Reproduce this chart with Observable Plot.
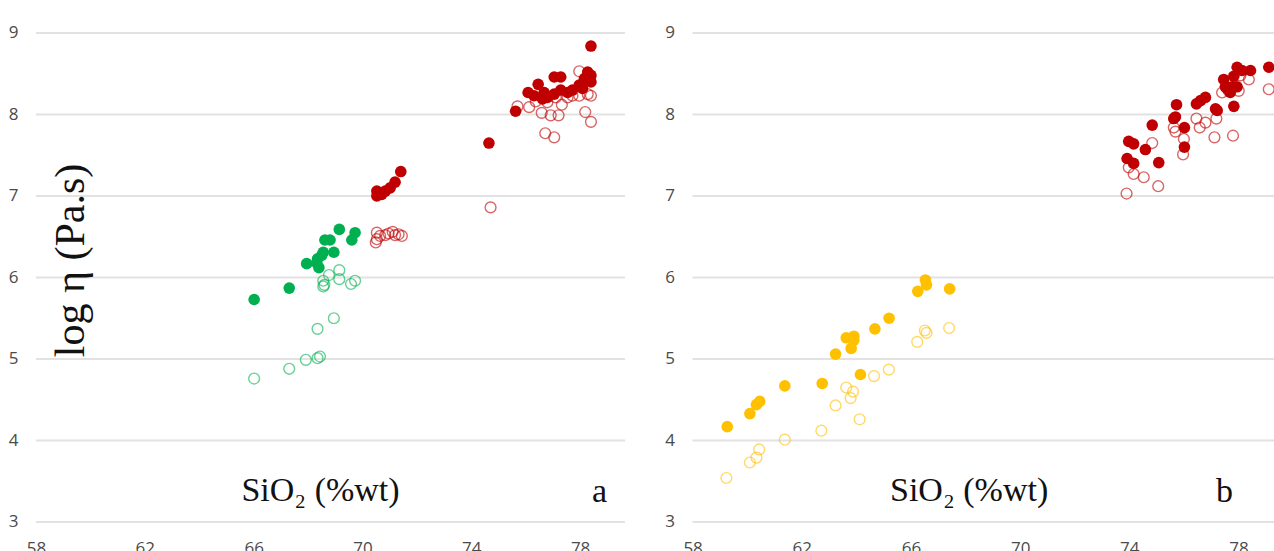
<!DOCTYPE html>
<html>
<head>
<meta charset="utf-8">
<script src="https://cdn.jsdelivr.net/npm/d3@7"></script>
<script src="https://cdn.jsdelivr.net/npm/@observablehq/plot@0.6"></script>
<style>
  html, body { margin: 0; padding: 0; background: #fff; overflow: hidden; }
  #wrap { display: flex; flex-direction: row; width: 1274px; height: 551px; }
</style>
</head>
<body>
<div id="wrap"></div>
<script>
// ---- tick labels ----
const xTicks = [58, 62, 66, 70, 74, 78];
const yTicks = [3, 4, 5, 6, 7, 8, 9];

// ---- labels ----
const xTitle = "SiO₂ (%wt)";
const yTitle = "log η (Pa.s)";
const panelLetters = ["a", "b"];

// ---- panel a: [SiO2, log viscosity] ----
const aGreenFilled = [[66.0,5.73],[67.29,5.87],[67.93,6.17],[68.3,6.18],[68.33,6.23],[68.38,6.12],[68.48,6.27],[68.54,6.31],[68.93,6.31],[68.6,6.46],[68.79,6.46],[69.13,6.59],[69.71,6.55],[69.59,6.46]];
const aGreenOpen = [[66.0,4.76],[67.29,4.88],[67.9,4.99],[68.33,5.01],[68.42,5.03],[68.33,5.37],[68.93,5.5],[68.54,5.96],[68.58,5.91],[68.54,5.89],[68.75,6.03],[69.13,6.09],[69.13,5.98],[69.56,5.92],[69.71,5.96]];
const aRedFilled = [[71.39,7.30],[71.18,7.17],[71.0,7.10],[70.82,7.06],[70.63,7.04],[70.51,7.0],[70.51,7.06],[70.69,7.02],
  [78.38,8.84],[74.63,7.65],[75.61,8.04],[76.07,8.27],[76.44,8.37],[76.29,8.23],[76.6,8.19],[76.78,8.21],[77.03,8.46],[77.27,8.46],[77.03,8.25],[77.27,8.30],[77.7,8.30],[77.95,8.36],[78.14,8.44],[78.26,8.52],[78.38,8.48],[78.07,8.32],[78.38,8.40],[77.52,8.27],[76.66,8.27]];
const aRedOpen = [[70.51,6.55],[70.51,6.47],[70.63,6.51],[70.82,6.52],[70.94,6.54],[71.09,6.56],[71.18,6.52],[71.31,6.53],[71.43,6.51],[70.47,6.43],
  [74.69,6.86],[76.7,7.77],[77.03,7.72],[75.68,8.10],[76.11,8.09],[76.57,8.02],[76.9,7.99],[77.19,7.99],[77.31,8.12],[78.17,8.03],[78.38,7.91],[77.95,8.53],[78.38,8.23],[76.35,8.16],[76.78,8.15],[77.7,8.23],[77.95,8.23],[78.26,8.25],[77.09,8.21],[77.52,8.21]];

// ---- panel b ----
const bYellowFilled = [[59.25,4.17],[60.08,4.33],[60.32,4.44],[60.44,4.48],[61.36,4.67],[62.73,4.70],[63.22,5.06],[63.61,5.26],[63.89,5.28],[63.89,5.23],[63.79,5.13],[64.13,4.81],[64.66,5.37],[65.18,5.50],[66.23,5.83],[66.51,5.97],[66.55,5.91],[67.40,5.86]];
const bYellowOpen = [[59.22,3.54],[60.08,3.73],[60.32,3.79],[60.42,3.89],[61.36,4.01],[62.70,4.12],[63.22,4.43],[63.61,4.65],[63.77,4.52],[63.86,4.60],[64.10,4.26],[64.63,4.79],[65.17,4.87],[66.21,5.21],[66.49,5.35],[66.55,5.32],[67.38,5.38]];
const bRedFilled = [[73.96,7.67],[74.14,7.64],[73.9,7.46],[74.14,7.40],[74.57,7.57],[74.82,7.87],[75.06,7.41],[75.71,8.12],[75.67,7.97],[75.61,7.95],[76.0,7.84],[76.0,7.60],[76.44,8.13],[76.59,8.17],[76.77,8.21],[77.14,8.07],[77.2,8.05],[77.81,8.10],[77.44,8.43],[77.56,8.32],[77.81,8.47],[77.93,8.58],[78.11,8.54],[78.42,8.54],[79.09,8.58],[77.5,8.34],[77.75,8.34],[77.93,8.34],[77.68,8.27]];
const bRedOpen = [[73.88,7.03],[73.96,7.35],[74.14,7.27],[74.51,7.23],[74.82,7.65],[75.04,7.12],[75.61,7.84],[75.67,7.79],[75.98,7.70],[75.95,7.51],[76.44,7.95],[76.56,7.84],[76.77,7.90],[77.17,7.95],[77.10,7.72],[77.78,7.74],[77.38,8.27],[77.62,8.29],[77.99,8.29],[78.36,8.43],[79.09,8.31],[78.05,8.48]];

// ---- colours ----
const GREEN = "#00b050", RED = "#c00000", YELLOW = "#ffc000";

const serif = "'Liberation Serif', 'DejaVu Serif', serif";

function panel({width, marginLeft, marginRight, xMax, series, letter, titleDx, letterDx, showYTitle}) {
  const marks = [
    Plot.gridY(yTicks, {stroke: "#e2e2e2", strokeOpacity: 1, strokeWidth: 2}),
    Plot.axisY(yTicks, {tickSize: 0, tickPadding: 18, label: null, fontSize: 17, tickFormat: d => String(d)}),
    Plot.axisX(xTicks, {tickSize: 0, tickPadding: 20, label: null, fontSize: 17, tickFormat: d => String(d)})
  ];
  for (const s of series) {
    if (s.filled) {
      marks.push(Plot.dot(s.data, {x: d => d[0], y: d => d[1], r: 5.8, fill: s.color, stroke: "none"}));
    }
  }
  for (const s of series) {
    if (!s.filled) {
      marks.push(Plot.dot(s.data, {x: d => d[0], y: d => d[1], r: 5.4, fill: "none", stroke: s.color, strokeOpacity: 0.6, strokeWidth: 1.4}));
    }
  }
  marks.push(Plot.text([xTitle], {text: d => d, frameAnchor: "bottom-left", dx: titleDx, dy: -21.5, lineAnchor: "bottom", textAnchor: "middle", fontFamily: serif, fontSize: 34, fill: "#111"}));
  marks.push(Plot.text([letter], {text: d => d, frameAnchor: "bottom-left", dx: letterDx, dy: -20.5, lineAnchor: "bottom", textAnchor: "middle", fontFamily: serif, fontSize: 34, fill: "#111"}));
  if (showYTitle) {
    marks.push(Plot.text([yTitle], {text: d => d, frameAnchor: "left", dx: 34, dy: -17, rotate: -90, textAnchor: "middle", lineAnchor: "middle", fontFamily: serif, fontSize: 42, fill: "#111"}));
  }
  return Plot.plot({
    width, height: 551,
    marginLeft, marginRight, marginTop: 32.5, marginBottom: 29.5,
    x: {domain: [58, xMax], axis: null},
    y: {domain: [3, 9], axis: null},
    style: {fontFamily: "'Open Sans', sans-serif", fontSize: "17px", color: "#4a4a4a", background: "#fff", overflow: "hidden"},
    marks
  });
}

const wrap = document.getElementById("wrap");
wrap.appendChild(panel({
  width: 650, marginLeft: 36, marginRight: 25, xMax: 79.65,
  series: [
    {data: aGreenFilled, color: GREEN, filled: true},
    {data: aRedFilled, color: RED, filled: true},
    {data: aGreenOpen, color: GREEN, filled: false},
    {data: aRedOpen, color: RED, filled: false}
  ],
  letter: panelLetters[0], titleDx: 284, letterDx: 563, showYTitle: true
}));
wrap.appendChild(panel({
  width: 624, marginLeft: 42.6, marginRight: 0, xMax: 79.3,
  series: [
    {data: bYellowFilled, color: YELLOW, filled: true},
    {data: bRedFilled, color: RED, filled: true},
    {data: bYellowOpen, color: YELLOW, filled: false},
    {data: bRedOpen, color: RED, filled: false}
  ],
  letter: panelLetters[1], titleDx: 276, letterDx: 531.4, showYTitle: false
}));
</script>
</body>
</html>
